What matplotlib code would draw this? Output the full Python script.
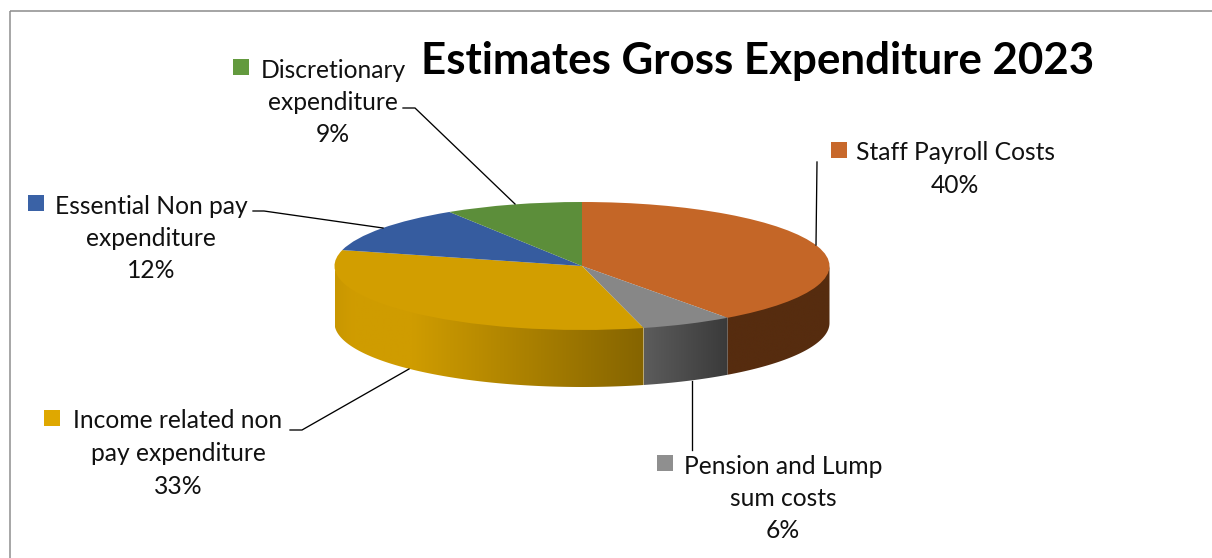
"""Estimates of gross expenditure for 2023 as a tilted pie with a side wall."""

import matplotlib

matplotlib.use("Agg")
import matplotlib.pyplot as plt
import numpy as np
from matplotlib.colors import LinearSegmentedColormap
from matplotlib.patches import Polygon

TITLE = "Estimates Gross Expenditure 2023"

# clockwise from twelve o'clock
categories = [
    ["Staff Payroll Costs"],
    ["Pension and Lump", "sum costs"],
    ["Income related non", "pay expenditure"],
    ["Essential Non pay", "expenditure"],
    ["Discretionary", "expenditure"],
]
shares = [40, 6, 33, 12, 9]

top_colors = ["#C46627", "#878787", "#D29E00", "#365C9F", "#5C8E3A"]
key_colors = ["#C8682B", "#8F8F8F", "#DFA800", "#3A62A6", "#639A3E"]
wall_stops = [
    [(0.0, "#562C0F"), (1.0, "#562C0F")],
    [(0.0, "#5C5C5C"), (1.0, "#3A3A3A")],
    [(0.0, "#C99700"), (0.06, "#D09C00"), (0.25, "#CF9C00"), (1.0, "#856400")],
    [(0.0, "#2A4A80"), (1.0, "#2A4A80")],
    [(0.0, "#4A7530"), (1.0, "#4A7530")],
]

# pixel layout of the figure
W, H = 1212, 558
CX, CY, RX, RY, DEPTH = 582, 266, 247.5, 64.0, 57.0

# label block centre x, first line centre y, key x
label_pos = [(955, 151, 831), (783, 464, 657), (178, 419, 44), (151, 204, 28), (333, 68, 233)]
LINE_STEP = 32.5
leaders = [
    [(817, 162), (816, 245)],
    [(692, 450), (692, 381)],
    [(290, 430), (302, 430), (409, 369)],
    [(253, 211), (264, 211), (383, 228)],
    [(403, 108), (415, 108), (515, 204)],
]

plt.rcParams["font.family"] = ["Lato", "DejaVu Sans"]
fig = plt.figure(figsize=(W / 100, H / 100), dpi=100, facecolor="white")

# the axes run down past the ellipse so the wall stays inside them
ax = fig.add_axes([(CX - RX) / W, (H - CY - RY - DEPTH) / H, 2 * RX / W, (2 * RY + DEPTH) / H])
ax.pie(
    shares,
    colors=top_colors,
    startangle=90,
    counterclock=False,
    wedgeprops={"zorder": 3, "linewidth": 0},
)
ax.axis("off")

# side wall: only the front half (0 to -180 degrees) can be seen
edges = 90 - 360 * np.concatenate([[0], np.cumsum(shares)]) / sum(shares)
wall_drop = DEPTH / RY
for i, stops in enumerate(wall_stops):
    start, stop = min(edges[i], 0), max(edges[i + 1], -180)
    if start <= stop:
        continue
    angles = np.radians(np.linspace(start, stop, 120))
    xs, ys = np.cos(angles), np.sin(angles)
    # top edge tucked under the wedges so no pale seam shows between them
    upper = np.column_stack([xs, ys + 0.03])
    lower = np.column_stack([xs, ys - wall_drop])[::-1]
    patch = Polygon(np.vstack([upper, lower]), closed=True, facecolor="none", edgecolor="none", transform=ax.transData)
    ax.add_patch(patch)
    cmap = LinearSegmentedColormap.from_list(f"wall{i}", stops)
    # gradient runs left to right across the visible part of the slice
    image = ax.imshow(
        np.linspace(0, 1, 256).reshape(1, -1),
        cmap=cmap,
        vmin=0,
        vmax=1,
        extent=(xs.min(), xs.max(), ys.min() - wall_drop, ys.max() + 0.03),
        aspect="auto",
        zorder=2,
        interpolation="bilinear",
    )
    image.set_clip_path(patch)

ax.set_aspect("auto")
ax.set_xlim(-1, 1)
ax.set_ylim(-1 - wall_drop, 1)

# overlay in pixel coordinates for frame, leaders and labels
over = fig.add_axes([0, 0, 1, 1], facecolor="none")
over.set_xlim(0, W)
over.set_ylim(H, 0)
over.axis("off")

over.plot([10, 10], [11, H], color="#A6A6A6", lw=1.4, solid_capstyle="butt")
over.plot([10, W], [11, 11], color="#8C8C8C", lw=1.1, solid_capstyle="butt")

over.text(758, 61, TITLE, fontsize=31.6, fontweight="bold", ha="center", va="center", color="black")

for line in leaders:
    px, py = zip(*line)
    over.plot(px, py, color="black", lw=0.95, solid_joinstyle="miter")

for lines, share, key, (lx, ly, kx) in zip(categories, shares, key_colors, label_pos):
    rows = lines + [f"{share}%"]
    for n, row in enumerate(rows):
        over.text(lx, ly + 2 + n * LINE_STEP, row, fontsize=17.7, ha="center", va="center", color="#111111")
    over.scatter([kx + 7.5], [ly - 1], marker="s", s=117, color=key, linewidths=0)

fig.savefig("out.png", dpi=100, facecolor="white")
